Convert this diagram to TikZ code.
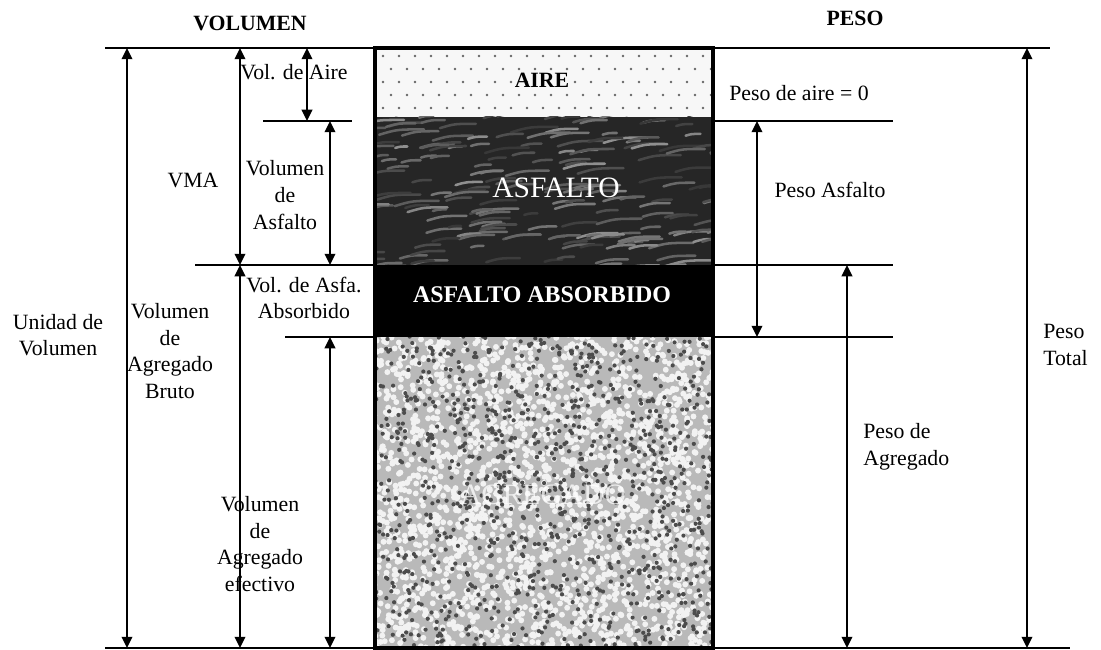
\documentclass[tikz,border=0pt]{standalone}
\usepackage{fontspec}
\setmainfont{Liberation Serif}
\usetikzlibrary{arrows.meta}

\tikzset{
  level/.style={line width=1.6pt},
  dim/.style={line width=1.2pt,
    {Triangle[length=8pt,width=7.5pt]}-{Triangle[length=8pt,width=7.5pt]}},
  lbl/.style={font=\fontsize{15.5}{19}\selectfont, align=center, inner sep=0pt},
  head/.style={font=\fontsize{15.5}{19}\selectfont\bfseries, inner sep=0pt},
  boxlbl/.style={font=\fontsize{21}{24}\selectfont, inner sep=0pt},
}

\begin{document}
\begin{tikzpicture}[x=0.025cm, y=-0.025cm]
  \useasboundingbox (0,0) rectangle (1101,650);
  \pgfmathsetseed{11}

  % Levels
    \coordinate (yTop) at (0,48);
    \coordinate (yAir) at (0,121);
    \coordinate (yAsf) at (0,265);
    \coordinate (yAbs) at (0,337);
    \coordinate (yBot) at (0,648);

  % Layers of the sample
    % aire
    \fill[gray!6] (375,48) rectangle (713,117);
    \foreach \r in {0,...,4}
      \foreach \c in {0,...,20}
        \fill[black!60] ({383+16*\c+8*mod(\r,2)},{56+13*\r}) circle (0.9pt);
    % asfalto
    \begin{scope}
      \clip (375,117) rectangle (713,265);
      \fill[black!85] (375,117) rectangle (713,265);
      \foreach \i in {1,...,200}{
        \pgfmathsetmacro\sx{360+360*rnd}
        \pgfmathsetmacro\sy{115+160*rnd}
        \pgfmathsetmacro\sl{12+35*rnd}
        \pgfmathtruncatemacro\sg{22+35*rnd}
        \draw[white!\sg!black, line width=1.8pt, line cap=round]
          (\sx,\sy) .. controls +(0.4*\sl,-0.12*\sl) .. ++(\sl,-0.12*\sl);
      }
    \end{scope}
    % asfalto absorbido
    \fill[black] (375,265) rectangle (713,337);
    % agregado
    \begin{scope}
      \clip (375,337) rectangle (713,648);
      \fill[gray!55] (375,337) rectangle (713,648);
      \foreach \i in {1,...,2300}
        \fill[white!90!gray] ({370+348*rnd},{332+322*rnd}) circle (2.1pt);
      \foreach \i in {1,...,1100}
        \fill[black!70] ({370+348*rnd},{332+322*rnd}) circle (1.5pt);
    \end{scope}

  % Horizontal lines
    \draw[level] (105,48) -- (1050,48);
    \draw[level] (105,648) -- (1070,648);
    \draw[level] (263,121) -- (352,121);
    \draw[level] (713,121) -- (893,121);
    \draw[level] (195,265) -- (375,265);
    \draw[level] (713,265) -- (893,265);
    \draw[level] (285,337) -- (375,337);
    \draw[level] (713,337) -- (893,337);

  % Outline of the sample
    \draw[line width=2.8pt] (375,48) rectangle (713,648);

  % Dimension arrows, volume side
    \draw[dim] (127,0 |- yTop) -- (127,0 |- yBot);
    \draw[dim] (240,0 |- yTop) -- (240,0 |- yAsf);
    \draw[dim] (240,0 |- yAsf) -- (240,0 |- yBot);
    \draw[dim] (307,0 |- yTop) -- (307,0 |- yAir);
    \draw[dim] (330,0 |- yAir) -- (330,0 |- yAsf);
    \draw[dim] (330,0 |- yAbs) -- (330,0 |- yBot);

  % Dimension arrows, weight side
    \draw[dim] (757,0 |- yAir) -- (757,0 |- yAbs);
    \draw[dim] (847,0 |- yAsf) -- (847,0 |- yBot);
    \draw[dim] (1027,0 |- yTop) -- (1027,0 |- yBot);

  % Headings
    \node[head] (volumen) at (250,23) {VOLUMEN};
    \node[head] (peso) at (855,18) {PESO};

  % Labels in the sample
    \node[boxlbl, font=\fontsize{15.5}{19}\selectfont\bfseries] (aire) at (542,80) {AIRE};
    \node[boxlbl, text=white] (asfalto) at (556,188) {ASFALTO};
    \node[boxlbl, text=white, font=\fontsize{17}{20}\selectfont\bfseries] (absorbido) at (542,295) {ASFALTO ABSORBIDO};
    \node[boxlbl, text=white, opacity=0.75] (agregado) at (543,495) {AGREGADO};

  % Volume labels
    \node[lbl] (unidad) at (58,335) {Unidad de\\Volumen};
    \node[lbl] (vma) at (193,180) {VMA};
    \node[lbl] (volaire) at (294,72) {Vol. de Aire};
    \node[lbl] (volasf) at (285,195) {Volumen\\de\\Asfalto};
    \node[lbl] (volbruto) at (170,351) {Volumen\\de\\Agregado\\Bruto};
    \node[lbl] (volabs) at (304,298) {Vol. de Asfa.\\Absorbido};
    \node[lbl] (volefect) at (260,544) {Volumen\\de\\Agregado\\efectivo};

  % Weight labels
    \node[lbl] (pesoaire) at (799,93) {Peso de aire = 0};
    \node[lbl] (pesoasf) at (830,190) {Peso Asfalto};
    \node[lbl, align=left, anchor=west] (pesoagr) at (863,447) {Peso de\\Agregado};
    \node[lbl, align=left, anchor=west] (pesototal) at (1043,345) {Peso\\Total};
\end{tikzpicture}
\end{document}
